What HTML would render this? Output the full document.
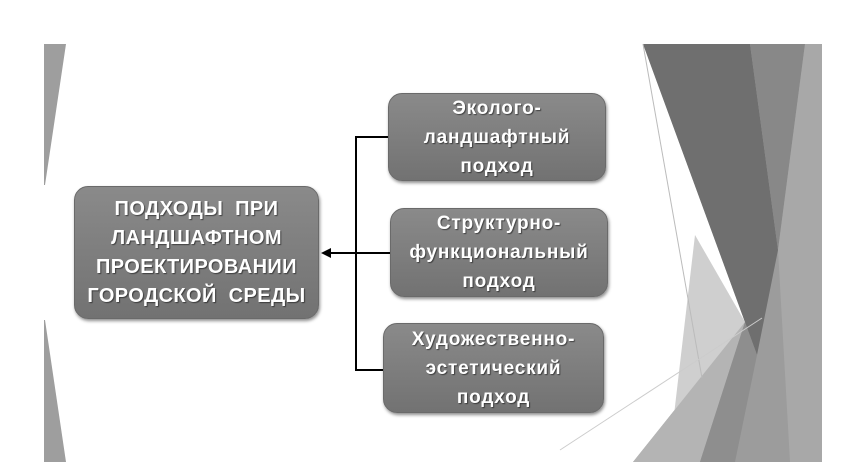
<!DOCTYPE html>
<html><head><meta charset="utf-8"><style>
html,body{margin:0;padding:0;background:#fff;}
body{width:842px;height:470px;position:relative;overflow:hidden;font-family:"Liberation Sans","DejaVu Sans",sans-serif;}
svg{position:absolute;left:0;top:0;}
.box{position:absolute;border-radius:14px;background:linear-gradient(#8a8a8a,#727272);box-shadow:1px 2px 3px rgba(0,0,0,.45);color:#fff;font-weight:bold;text-align:center;display:flex;align-items:center;justify-content:center;text-shadow:1px 1px 1px rgba(0,0,0,.5);border:1px solid #6a6a6a;box-sizing:border-box;white-space:nowrap;}
.main{left:74px;top:186px;width:245px;height:133px;font-size:20px;line-height:29px;letter-spacing:.4px;}
.sm{font-size:19px;line-height:29px;letter-spacing:.8px;}
</style></head><body>
<svg width="842" height="470">
<polygon points="44,44 66,44 45,185 44,185" fill="#9e9e9e"/>
<polygon points="44,320 45,320 66,462 44,462" fill="#9e9e9e"/>
<polygon points="643,44 822,44 822,462 633,462 745,322" fill="#9c9c9c"/>
<polygon points="643,44 750,44 778,250 757,355" fill="#6f6f6f"/>
<polygon points="750,44 805,44 778,250" fill="#888"/>
<polygon points="805,44 822,44 822,462 790,462 778,250" fill="#a8a8a8"/>
<polygon points="695,235 745,322 672,432" fill="#cfcfcf"/>
<polygon points="633,462 745,322 700,462" fill="#b4b4b4"/>
<polygon points="745,322 757,355 735,462 700,462" fill="#8e8e8e"/>
<line x1="643" y1="44" x2="702" y2="378" stroke="#bbb" stroke-width="1"/>
<line x1="560" y1="450" x2="762" y2="318" stroke="#ccc" stroke-width="1"/>
<g stroke="#000" stroke-width="2" fill="none">
<polyline points="390,137 356,137 356,370 385,370"/>
<line x1="392" y1="253" x2="328" y2="253"/>
</g>
<polygon points="321,253 331,248 331,258" fill="#000"/>
</svg>
<div class="box main"><div>ПОДХОДЫ&nbsp; ПРИ<br>ЛАНДШАФТНОМ<br>ПРОЕКТИРОВАНИИ<br>ГОРОДСКОЙ&nbsp; СРЕДЫ</div></div>
<div class="box sm" style="left:388px;top:93px;width:218px;height:88px;"><div>Эколого-<br>ландшафтный<br>подход</div></div>
<div class="box sm" style="left:390px;top:208px;width:218px;height:89px;"><div>Структурно-<br>функциональный<br>подход</div></div>
<div class="box sm" style="left:383px;top:323px;width:221px;height:90px;"><div>Художественно-<br>эстетический<br>подход</div></div>
</body></html>
